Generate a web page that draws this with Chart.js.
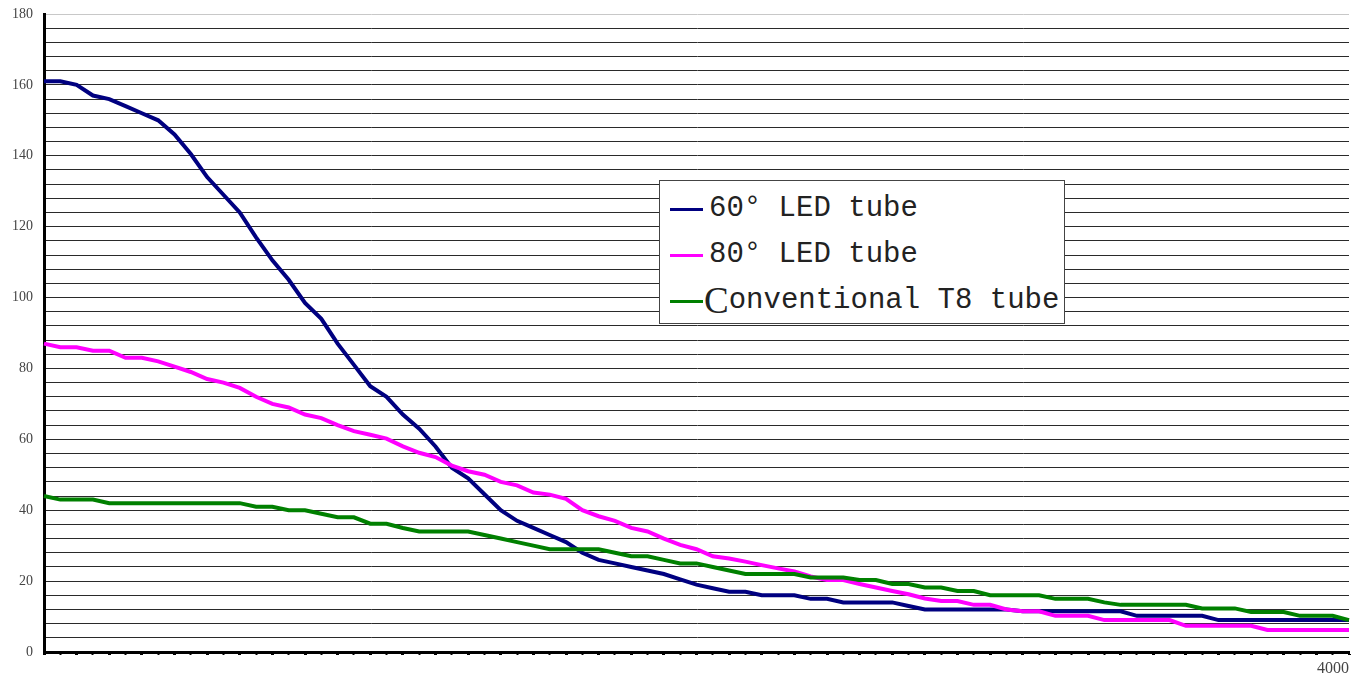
<!DOCTYPE html>
<html>
<head>
<meta charset="utf-8">
<script src="https://cdn.jsdelivr.net/npm/chart.js@4.4.1/dist/chart.umd.min.js"></script>
<style>
  html, body { margin: 0; padding: 0; background: #fff; }
  #wrap { position: relative; width: 1360px; height: 675px; }
  #legend {
    position: absolute; left: 659px; top: 180px; width: 404px; height: 137px;
    border: 1px solid #444; background: #fff; box-sizing: content-box;
    padding-top: 5px;
  }
  .row { display: flex; align-items: center; height: 46px; }
  .sample { width: 33px; height: 3px; margin-left: 10px; }
  .txt { display: inline-block; margin-left: 6px; font-family: "Liberation Mono", monospace; font-size: 29px; color: #222; white-space: pre; line-height: 46px; }
  .row:nth-child(3) .txt { margin-left: 1px; }
  .row:nth-child(3) .txt::first-letter { font-family: "Liberation Serif", serif; font-size: 37px; vertical-align: -5px; }
</style>
</head>
<body>
<div id="wrap">
  <canvas id="c" width="1360" height="675"></canvas>
  <div id="legend"></div>
</div>
<script>
const categories = [0,50,100,150,200,250,300,350,400,450,500,550,600,650,700,750,800,850,900,950,
  1000,1050,1100,1150,1200,1250,1300,1350,1400,1450,1500,1550,1600,1650,1700,1750,1800,1850,1900,1950,
  2000,2050,2100,2150,2200,2250,2300,2350,2400,2450,2500,2550,2600,2650,2700,2750,2800,2850,2900,2950,
  3000,3050,3100,3150,3200,3250,3300,3350,3400,3450,3500,3550,3600,3650,3700,3750,3800,3850,3900,3950,4000];

const seriesNames = ["60° LED tube", "80° LED tube", "Conventional T8 tube"];

const led60 = [161,161,160,157,156,154,152,150,146,140.5,
  134,129,124,117,110.5,105,98.5,94,87,81,
  75,72,67,63,58,52,49,44.5,40,37,
  35,33,31,28,26,25,24,23,22,20.5,
  19,18,17,17,16,16,16,15,15,14,
  14,14,14,13,12,12,12,12,12,12,
  11.5,11.5,11.5,11.5,11.5,11.5,11.5,10.2,10.2,10.2,
  10.2,10.2,9,9,9,9,9,9,9,9,
  9];

const led80 = [87,86,86,85,85,83,83,82,80.5,79,
  77,76,74.5,72,70,69,67,66,64,62.3,
  61.3,60.2,58,56.2,55,52.6,51,50,48,47,
  45,44.4,43.2,40,38.3,37,35,34,32,30.2,
  29,27,26.4,25.5,24.5,23.6,22.7,21.3,20.3,20.3,
  19.2,18.2,17.2,16.3,15.1,14.4,14.4,13.3,13.3,12,
  11.5,11.5,10.2,10.2,10.2,9,9,9,9,9,
  7.4,7.4,7.4,7.4,7.4,6.2,6.2,6.2,6.2,6.2,
  6.2];

const t8 = [44,43,43,43,42,42,42,42,42,42,
  42,42,42,41,41,40,40,39,38,38,
  36.2,36.2,35,34,34,34,34,33,32,31,
  30,29,29,29,29,28,27,27,26,25,
  25,24,23,22,22,22,22,21,21,21,
  20.3,20.3,19.2,19.2,18.2,18.2,17.2,17.2,16,16,
  16,16,15,15,15,14,13.3,13.3,13.3,13.3,
  13.3,12.3,12.3,12.3,11.3,11.3,11.3,10.2,10.2,10.2,
  9];

const yTickLabels = [0,20,40,60,80,100,120,140,160,180];
const xTickLabels = [4000];
const seriesColors = ["#000080", "#FF00FF", "#008000"];

const mk = (i, data, order) => ({
  label: seriesNames[i], data, borderColor: seriesColors[i], backgroundColor: seriesColors[i],
  borderWidth: 4, pointRadius: 0, tension: 0, fill: false, order
});

const chart = new Chart(document.getElementById('c'), {
  type: 'line',
  data: {
    labels: categories,
    datasets: [mk(0, led60, 3), mk(1, led80, 2), mk(2, t8, 1)]
  },
  options: {
    responsive: false,
    animation: false,
    layout: { padding: { top: 14, right: 11, bottom: 0, left: 0 } },
    plugins: { legend: { display: false }, tooltip: { enabled: false } },
    scales: {
      x: {
        type: 'category',
        offset: false,
        border: { color: '#000', width: 3 },
        grid: {
          drawOnChartArea: false, drawTicks: true, tickLength: 3,
          tickColor: '#000', tickWidth: ctx => (ctx.index % 2 === 0 ? 3 : 2)
        },
        ticks: {
          autoSkip: false, maxRotation: 0, minRotation: 0, align: 'end', padding: 4,
          color: '#444', font: { family: 'Liberation Serif', size: 16 },
          callback: function (v, i) {
            const lab = this.getLabelForValue(v);
            return xTickLabels.includes(Number(lab)) ? String(lab) : '';
          }
        },
        afterFit: s => { s.height = 23; }
      },
      y: {
        min: 0, max: 180,
        border: { color: '#000', width: 3 },
        grid: {
          drawTicks: false, lineWidth: 1,
          color: ctx => (ctx.tick && ctx.tick.value === 180 ? '#c8c8c8' : '#2a2a2a')
        },
        ticks: {
          stepSize: 4, autoSkip: false, padding: 11,
          color: '#444', font: { family: 'Liberation Serif', size: 14, lineHeight: 1 },
          callback: v => (yTickLabels.includes(v) ? String(v) : '')
        },
        afterFit: s => { s.width = 44; s.paddingTop = 0; s.paddingBottom = 0; }
      }
    }
  },
  plugins: [{
    id: 'fixTop',
    afterLayout(ch) {
      // nothing drawn here; layout check only
    }
  }]
});

// HTML legend built from the chart's datasets
const lg = document.getElementById('legend');
chart.data.datasets.forEach(ds => {
  const row = document.createElement('div');
  row.className = 'row';
  const sm = document.createElement('span');
  sm.className = 'sample';
  sm.style.background = ds.borderColor;
  const tx = document.createElement('span');
  tx.className = 'txt';
  tx.textContent = ds.label;
  row.appendChild(sm); row.appendChild(tx);
  lg.appendChild(row);
});
</script>
</body>
</html>
